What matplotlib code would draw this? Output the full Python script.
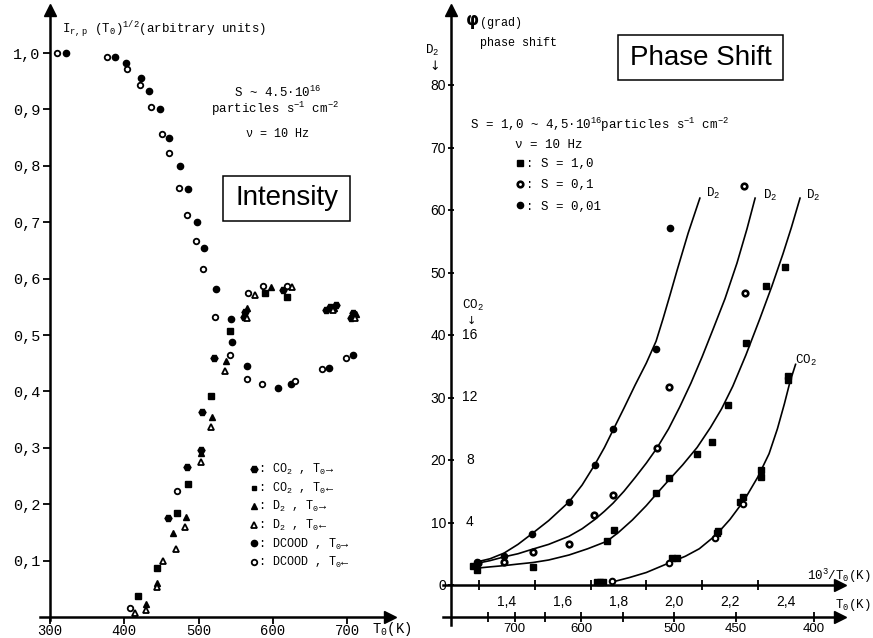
import numpy as np
import matplotlib.pyplot as plt
from matplotlib.patches import Rectangle
from matplotlib.lines import Line2D

# ---- left panel: intensity vs T0 (K) ----
co2_fwd_T = [459, 484, 504, 505, 521, 563, 561, 614, 672, 677, 685, 708, 706]
co2_fwd_I = [0.175, 0.266, 0.296, 0.364, 0.459, 0.541, 0.532, 0.580, 0.544, 0.550, 0.553, 0.539, 0.530]
co2_bwd_T = [418, 444, 471, 486, 517, 542, 590, 619]
co2_bwd_I = [0.037, 0.087, 0.184, 0.236, 0.392, 0.507, 0.574, 0.568]
d2_fwd_T = [429, 444, 466, 483, 503, 518, 537, 565, 598, 683, 712]
d2_fwd_I = [0.023, 0.060, 0.149, 0.177, 0.290, 0.355, 0.454, 0.548, 0.585, 0.548, 0.538]
d2_bwd_T = [414, 429, 444, 452, 470, 482, 504, 517, 536, 565, 576, 626, 681, 711]
d2_bwd_I = [0.007, 0.012, 0.053, 0.099, 0.121, 0.160, 0.275, 0.337, 0.436, 0.530, 0.571, 0.585, 0.544, 0.530]
dcood_fwd_T = [322, 388, 402, 423, 434, 448, 460, 475, 486, 498, 508, 524, 544, 545, 565, 607, 624, 676, 708]
dcood_fwd_I = [1.0, 0.993, 0.982, 0.956, 0.932, 0.900, 0.850, 0.800, 0.759, 0.700, 0.655, 0.581,
               0.528, 0.488, 0.445, 0.406, 0.413, 0.441, 0.464]
dcood_bwd_T = [309, 377, 404, 421, 436, 451, 460, 474, 485, 497, 506, 522, 542, 565, 585, 630, 666, 699,
               408, 471, 567, 587, 619]
dcood_bwd_I = [1.0, 0.993, 0.972, 0.943, 0.904, 0.856, 0.823, 0.761, 0.713, 0.667, 0.617, 0.532, 0.464,
               0.422, 0.413, 0.418, 0.440, 0.459, 0.016, 0.223, 0.574, 0.587, 0.587]
left_xticks = [300, 400, 500, 600, 700]
left_yticks = [0.1, 0.2, 0.3, 0.4, 0.5, 0.6, 0.7, 0.8, 0.9, 1.0]
left_ylabels = ["0,1", "0,2", "0,3", "0,4", "0,5", "0,6", "0,7", "0,8", "0,9", "1,0"]

# ---- right panel: phase shift vs 10^3/T0 ----
s001_u = [1.293, 1.390, 1.490, 1.623, 1.716, 1.781, 1.935, 1.985]
s001_phi = [3.7, 4.6, 8.2, 13.3, 19.2, 25.0, 37.8, 57.1]
s01_u = [1.297, 1.390, 1.494, 1.623, 1.713, 1.781, 1.938, 1.981, 2.250, 2.254]
s01_phi = [3.5, 3.7, 5.3, 6.6, 11.2, 14.4, 21.9, 31.7, 63.9, 46.7]
s1_u = [1.279, 1.293, 1.494, 1.759, 1.784, 1.935, 1.981, 2.082, 2.135, 2.193, 2.257, 2.329, 2.397]
s1_phi = [3.0, 2.4, 2.9, 7.0, 8.8, 14.7, 17.1, 21.0, 22.9, 28.8, 38.7, 47.9, 50.9]
co2_u = [1.723, 1.734, 1.745, 1.992, 2.010, 2.153, 2.157, 2.236, 2.247, 2.311, 2.311, 2.408, 2.408]
co2_phi = [0.5, 0.5, 0.5, 4.3, 4.3, 8.3, 8.6, 13.3, 14.1, 18.4, 17.3, 32.8, 33.4]
co2_open_u = [1.777, 1.981, 2.146, 2.247]
co2_open_phi = [0.6, 3.5, 7.5, 13.0]

# hand-drawn fit curves
curve1_u = [1.293, 1.34, 1.39, 1.44, 1.49, 1.55, 1.623, 1.67, 1.716, 1.75, 1.781, 1.82, 1.86,
            1.90, 1.935, 1.96, 1.985, 2.01, 2.05, 2.092]
curve1_phi = [3.7, 4.2, 5.1, 6.5, 8.2, 10.3, 13.3, 16.0, 19.3, 22.0, 24.8, 28.3, 32.0,
              35.5, 39.0, 42.6, 46.4, 50.3, 56.3, 61.9]
curve2_u = [1.297, 1.34, 1.39, 1.44, 1.49, 1.55, 1.623, 1.67, 1.716, 1.75, 1.781, 1.82, 1.86, 1.90,
            1.938, 1.98, 2.02, 2.06, 2.10, 2.14, 2.182, 2.225, 2.261, 2.29]
curve2_phi = [3.5, 3.9, 4.5, 5.0, 5.7, 6.5, 7.8, 9.0, 10.5, 11.8, 13.1, 15.0, 17.2, 19.5,
              21.9, 25.0, 28.5, 32.3, 36.5, 41.0, 45.8, 51.5, 57.0, 61.9]
curve3_u = [1.293, 1.34, 1.39, 1.44, 1.494, 1.55, 1.623, 1.69, 1.759, 1.80, 1.85, 1.90, 1.935, 1.981,
            2.03, 2.082, 2.13, 2.17, 2.21, 2.257, 2.307, 2.35, 2.39, 2.42, 2.451]
curve3_phi = [2.7, 2.9, 3.1, 3.35, 3.6, 4.0, 4.8, 5.8, 7.0, 8.4, 10.4, 12.7, 14.5, 16.8,
              19.2, 22.0, 25.2, 28.2, 31.8, 36.8, 42.6, 47.8, 53.0, 57.2, 61.9]
co2c_u = [1.78, 1.84, 1.90, 1.98, 2.04, 2.09, 2.15, 2.20, 2.25, 2.30, 2.34, 2.37, 2.395, 2.415, 2.435]
co2c_phi = [0.5, 1.2, 2.0, 3.5, 4.6, 5.8, 8.0, 10.5, 13.5, 17.3, 21.0, 25.0, 29.0, 32.5, 35.3]

right_yticks = [0, 10, 20, 30, 40, 50, 60, 70, 80]
co2_scale_pos = [10, 20, 30, 40]
co2_scale_lab = ["4", "8", "12", "16"]
u_labels_pos = [1.4, 1.6, 1.8, 2.0, 2.2, 2.4]
u_labels = ["1,4", "1,6", "1,8", "2,0", "2,2", "2,4"]
u_minor = [1.3, 1.5, 1.7, 1.9, 2.1, 2.3]
T_major = [700, 600, 500, 450, 400]
T_minor = [750, 650, 550]

W, H = 873, 638
MONO = ['Liberation Mono', 'DejaVu Sans Mono']
plt.rcParams['font.family'] = MONO
plt.rcParams['mathtext.fontset'] = 'custom'
plt.rcParams['mathtext.rm'] = 'Liberation Mono'
plt.rcParams['mathtext.it'] = 'Liberation Mono'
plt.rcParams['mathtext.bf'] = 'Liberation Mono:bold'

fig = plt.figure(figsize=(W / 100, H / 100), dpi=100)


def fpos(x0, y0, x1, y1):
    # pixel box -> figure fraction [left, bottom, width, height]
    return [x0 / W, 1 - y1 / H, (x1 - x0) / W, (y1 - y0) / H]


def ftext(x, y, s, **kw):
    fig.text(x / W, 1 - y / H, s, **kw)


def fbox(x0, y0, x1, y1):
    fig.add_artist(Rectangle((x0 / W, 1 - y1 / H), (x1 - x0) / W, (y1 - y0) / H,
                             transform=fig.transFigure, fc='white', ec='black', lw=1.1))


def arrow_axes(ax, x0, y0):
    for s in ['top', 'right']:
        ax.spines[s].set_visible(False)
    ax.spines['left'].set_position(('data', x0))
    ax.spines['bottom'].set_position(('data', y0))
    for s in ['left', 'bottom']:
        ax.spines[s].set_linewidth(1.8)
    ax.plot(1, y0, '>k', ms=8, transform=ax.get_yaxis_transform(), clip_on=False)
    ax.plot(x0, 1, '^k', ms=8, transform=ax.get_xaxis_transform(), clip_on=False)


# ================= left panel =================
axL = fig.add_axes(fpos(40, 10, 390, 620))
axL.set_xlim(300 - 10 / 0.7425, 300 + 340 / 0.7425)
axL.set_ylim(-3 / 564, 607 / 564)
arrow_axes(axL, 300, 0)

mk = dict(ls='none', color='black', clip_on=False)
axL.plot(co2_fwd_T, co2_fwd_I, marker='H', ms=5, **mk)
axL.plot(co2_bwd_T, co2_bwd_I, marker='s', ms=4.5, **mk)
axL.plot(d2_fwd_T, d2_fwd_I, marker='^', ms=5, **mk)
axL.plot(d2_bwd_T, d2_bwd_I, marker='^', ms=4.5, mfc='white', mew=1.3, **mk)
axL.plot(dcood_fwd_T, dcood_fwd_I, marker='o', ms=4.5, **mk)
axL.plot(dcood_bwd_T, dcood_bwd_I, marker='o', ms=4, mfc='white', mew=1.3, **mk)

axL.set_xticks(left_xticks)
axL.set_xticklabels([str(v) for v in left_xticks])
axL.set_yticks(left_yticks)
axL.set_yticklabels(left_ylabels)
axL.tick_params(axis='both', labelsize=11, width=1.3, length=5, direction='out')
axL.tick_params(axis='x', pad=0, labelsize=10)
axL.tick_params(axis='y', pad=2)

ftext(62, 30, r"I$_{r,p}$ (T$_0$)$^{1/2}$(arbitrary units)", fontsize=9, va='center')
ftext(278, 92, r"S ~ 4.5·10$^{16}$", fontsize=9, ha='center', va='center')
ftext(275, 109, r"particles s$^{-1}$ cm$^{-2}$", fontsize=9, ha='center', va='center')
ftext(277, 134, "ν = 10 Hz", fontsize=8.5, ha='center', va='center')
fbox(223, 176, 350, 221)
ftext(286.5, 198.5, "Intensity", fontsize=20, family='Liberation Sans', ha='center', va='center')
ftext(372, 629, r"T$_0$(K)", fontsize=10, va='center')

hL = [Line2D([], [], marker='H', ms=5, **mk),
      Line2D([], [], marker='s', ms=3.5, **mk),
      Line2D([], [], marker='^', ms=5, **mk),
      Line2D([], [], marker='^', ms=4.5, mfc='white', mew=1.3, **mk),
      Line2D([], [], marker='o', ms=4.5, **mk),
      Line2D([], [], marker='o', ms=4, mfc='white', mew=1.3, **mk)]
labL = [r": CO$_2$ , T$_0$→", r": CO$_2$ , T$_0$←", r": D$_2$ , T$_0$→",
        r": D$_2$ , T$_0$←", r": DCOOD , T$_0$→", r": DCOOD , T$_0$←"]
fig.legend(hL, labL, loc='upper left', bbox_to_anchor=(250 / W, 1 - 462 / H), frameon=False,
           fontsize=8.5, handlelength=0.6, handletextpad=0.1, labelspacing=0.3, borderpad=0,
           borderaxespad=0)

# ================= right panel =================
axR = fig.add_axes(fpos(443, 10, 840, 625))
axR.set_xlim(1.2 - 8 / 279, 1.2 + 389 / 279)
axR.set_ylim(-40 / 6.25, 575 / 6.25)
arrow_axes(axR, 1.2, 0)

axR.plot(curve1_u, curve1_phi, color='black', lw=1.2)
axR.plot(curve2_u, curve2_phi, color='black', lw=1.2)
axR.plot(curve3_u, curve3_phi, color='black', lw=1.2)
axR.plot(co2c_u, co2c_phi, color='black', lw=1.2)

axR.plot(s1_u, s1_phi, marker='s', ms=4.5, **mk)
axR.plot(s01_u, s01_phi, marker='o', ms=4, mfc='white', mew=1.9, **mk)
axR.plot(s001_u, s001_phi, marker='o', ms=4.5, **mk)
axR.plot(co2_u, co2_phi, marker='s', ms=4.5, **mk)
axR.plot(co2_open_u, co2_open_phi, marker='o', ms=4, mfc='white', mew=1.5, **mk)

axR.set_yticks(right_yticks)
axR.set_yticklabels([str(v) for v in right_yticks])
axR.tick_params(axis='y', labelsize=10, width=1.3, length=5, direction='inout', pad=1,
                labelfontfamily='Liberation Sans')
axR.set_xticks(u_labels_pos)
axR.set_xticklabels(u_labels)
axR.set_xticks(u_minor, minor=True)
axR.tick_params(axis='x', which='major', length=0, pad=7, labelsize=10,
                labelfontfamily='Liberation Sans')
axR.tick_params(axis='x', which='minor', length=7, width=1.3, direction='inout')

for p, lab in zip(co2_scale_pos, co2_scale_lab):
    axR.text(1.2 + 19 / 279, p, lab, fontsize=10, family='Liberation Sans', ha='center', va='center')


def to_T(u):
    u = np.asarray(u, dtype=float)
    with np.errstate(divide='ignore'):
        return 1000.0 / u


sec = axR.secondary_xaxis(8 / 615, functions=(to_T, to_T))
sec.spines['bottom'].set_linewidth(1.8)
sec.set_xticks(T_major)
sec.set_xticklabels([str(v) for v in T_major])
sec.set_xticks(T_minor, minor=True)
sec.tick_params(axis='x', which='both', length=7, width=1.3, direction='inout', labelsize=9.5,
                pad=1, labelfontfamily='Liberation Sans')
axR.plot(1, 8 / 615, '>k', ms=8, transform=axR.transAxes, clip_on=False)

ftext(466, 20, "φ", fontsize=12, weight='bold', family='DejaVu Sans', va='center')
ftext(480, 23, "(grad)", fontsize=8.5, va='center')
ftext(480, 43, "phase shift", fontsize=8.5, va='center')
fbox(618, 35, 783, 80)
ftext(700.5, 58, "Phase Shift", fontsize=20, family='Liberation Sans', ha='center', va='center')
ftext(425, 50, r"D$_2$", fontsize=9, va='center')
ftext(435, 67, "↓", fontsize=9, ha='center', va='center', family='DejaVu Sans')
ftext(462, 305, r"CO$_2$", fontsize=9, va='center')
ftext(471, 321, "↓", fontsize=8, ha='center', va='center', family='DejaVu Sans')
ftext(470, 125, r"S = 1,0 ~ 4,5·10$^{16}$particles s$^{-1}$ cm$^{-2}$", fontsize=9, va='center')
ftext(515, 145, "ν = 10 Hz", fontsize=9, va='center')
ftext(706, 193, r"D$_2$", fontsize=9, va='center')
ftext(763, 195, r"D$_2$", fontsize=9, va='center')
ftext(806, 195, r"D$_2$", fontsize=9, va='center')
ftext(795, 360, r"CO$_2$", fontsize=9, va='center')
ftext(871, 576, r"10$^3$/T$_0$(K)", fontsize=9, ha='right', va='center')
ftext(871, 605, r"T$_0$(K)", fontsize=9, ha='right', va='center')

hR = [Line2D([], [], marker='s', ms=4.5, **mk),
      Line2D([], [], marker='o', ms=4, mfc='white', mew=1.9, **mk),
      Line2D([], [], marker='o', ms=4.5, **mk)]
labR = [": S = 1,0", ": S = 0,1", ": S = 0,01"]
fig.legend(hR, labR, loc='upper left', bbox_to_anchor=(516 / W, 1 - 158 / H), frameon=False,
           fontsize=9, handlelength=0.6, handletextpad=0.2, labelspacing=0.75, borderpad=0,
           borderaxespad=0)

fig.savefig("out.png", dpi=100)
